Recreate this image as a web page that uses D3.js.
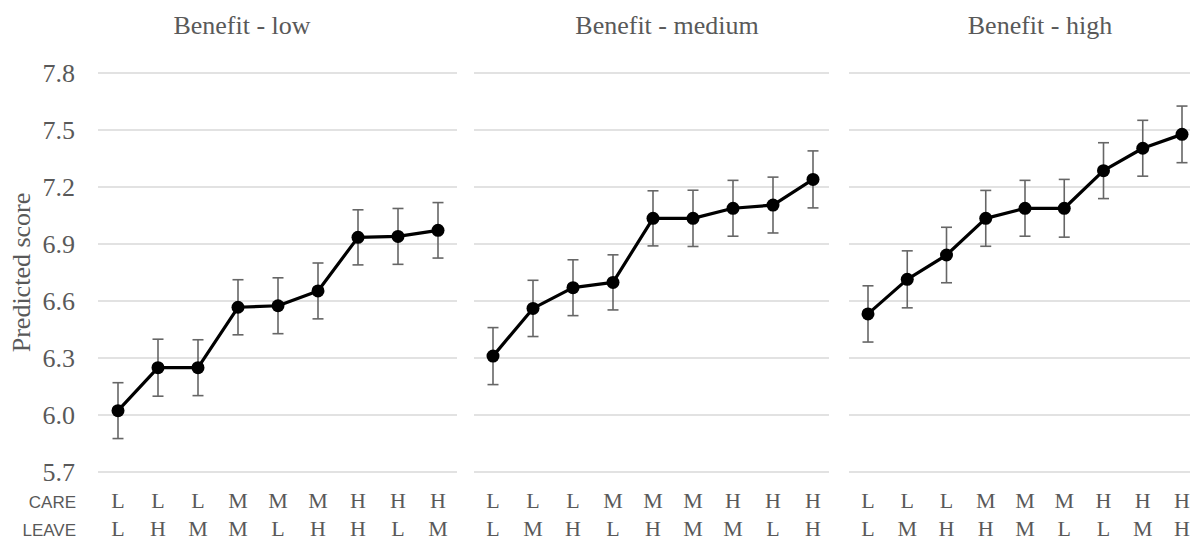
<!DOCTYPE html>
<html>
<head>
<meta charset="utf-8">
<script src="https://cdn.jsdelivr.net/npm/d3@7"></script>
<style>
  body { margin: 0; background: #fff; }
  #svg-container { width: 1200px; height: 540px; }
</style>
</head>
<body>
<div id="svg-container"></div>
<script>
////////////////////////////////////////////////////////////////////
////////////////////////////  Data  ////////////////////////////////
const panelTitles = ["Benefit - low", "Benefit - medium", "Benefit - high"];
const yTicks = [5.7, 6.0, 6.3, 6.6, 6.9, 7.2, 7.5, 7.8];

const careLow = ["L", "L", "L", "M", "M", "M", "H", "H", "H"];
const leaveLow = ["L", "H", "M", "M", "L", "H", "H", "L", "M"];
const scoreLow = [6.023, 6.249, 6.249, 6.567, 6.575, 6.653, 6.935, 6.94, 6.972];
const errLow = [0.147, 0.15, 0.147, 0.145, 0.147, 0.147, 0.145, 0.147, 0.146];

const careMed = ["L", "L", "L", "M", "M", "M", "H", "H", "H"];
const leaveMed = ["L", "M", "H", "L", "H", "M", "M", "L", "H"];
const scoreMed = [6.31, 6.561, 6.67, 6.698, 7.035, 7.035, 7.088, 7.105, 7.24];
const errMed = [0.15, 0.148, 0.147, 0.145, 0.145, 0.148, 0.147, 0.147, 0.15];

const careHigh = ["L", "L", "L", "M", "M", "M", "H", "H", "H"];
const leaveHigh = ["L", "M", "H", "H", "M", "L", "L", "M", "H"];
const scoreHigh = [6.532, 6.714, 6.842, 7.035, 7.088, 7.088, 7.286, 7.404, 7.477];
const errHigh = [0.148, 0.15, 0.146, 0.147, 0.147, 0.152, 0.147, 0.147, 0.149];

////////////////////////////////////////////////////////////////////
////////////////////////////  Init  ////////////////////////////////
const width = 1200;
const height = 540;

const svg = d3
  .select("#svg-container")
  .append("svg")
  .attr("width", width)
  .attr("height", height);

const serif = "'Liberation Serif', 'Times New Roman', serif";
const sans = "'Liberation Sans', Arial, sans-serif";
const textGrey = "#595959";

// layout of the three panels (gridline extent, first/last point, title centre)
const panels = [
  { grid: [98, 457], pts: [118, 438], titleX: 242, care: careLow, leave: leaveLow, score: scoreLow, err: errLow },
  { grid: [474, 829], pts: [493, 813], titleX: 667, care: careMed, leave: leaveMed, score: scoreMed, err: errMed },
  { grid: [849, 1190], pts: [868, 1182], titleX: 1040, care: careHigh, leave: leaveHigh, score: scoreHigh, err: errHigh },
];

const yScale = d3.scaleLinear().domain([5.7, 7.8]).range([472, 73]);

// y tick labels
const yAxis = d3
  .axisLeft(yScale)
  .tickValues(yTicks)
  .tickFormat(d3.format(".1f"))
  .tickSize(0)
  .tickPadding(0);

const yG = svg.append("g").attr("transform", "translate(75,0)").call(yAxis);
yG.select(".domain").remove();
yG.selectAll("text")
  .attr("fill", textGrey)
  .style("font-family", serif)
  .style("font-size", "26px")
  .attr("dy", "0.33em");

// axis title
svg
  .append("text")
  .attr("transform", `translate(30, ${(yScale(5.7) + yScale(7.8)) / 2}) rotate(-90)`)
  .attr("text-anchor", "middle")
  .attr("fill", textGrey)
  .style("font-family", serif)
  .style("font-size", "26px")
  .text("Predicted score");

// row headers
svg
  .selectAll(".row-head")
  .data(["CARE", "LEAVE"])
  .join("text")
  .attr("class", "row-head")
  .attr("x", 76)
  .attr("y", (d, i) => 508 + i * 28)
  .attr("text-anchor", "end")
  .attr("fill", textGrey)
  .style("font-family", sans)
  .style("font-size", "17px")
  .text((d) => d);

////////////////////////////////////////////////////////////////////
////////////////////////////  Panels  //////////////////////////////
panels.forEach((p, pi) => {
  const xScale = d3.scalePoint().domain(d3.range(p.score.length)).range(p.pts);
  const g = svg.append("g");

  // gridlines
  g.selectAll(".grid")
    .data(yTicks)
    .join("line")
    .attr("x1", p.grid[0])
    .attr("x2", p.grid[1])
    .attr("y1", (d) => yScale(d))
    .attr("y2", (d) => yScale(d))
    .attr("stroke", "#d9d9d9")
    .attr("stroke-width", 1.5);

  // title
  g.append("text")
    .attr("x", p.titleX)
    .attr("y", 34)
    .attr("text-anchor", "middle")
    .attr("fill", textGrey)
    .style("font-family", serif)
    .style("font-size", "26px")
    .text(panelTitles[pi]);

  // error bars
  const eb = g
    .selectAll(".err")
    .data(p.score)
    .join("g")
    .attr("stroke", "#666")
    .attr("stroke-width", 1.6);
  eb.append("line")
    .attr("x1", (d, i) => xScale(i))
    .attr("x2", (d, i) => xScale(i))
    .attr("y1", (d, i) => yScale(d + p.err[i]))
    .attr("y2", (d, i) => yScale(d - p.err[i]));
  eb.append("line")
    .attr("x1", (d, i) => xScale(i) - 5.5)
    .attr("x2", (d, i) => xScale(i) + 5.5)
    .attr("y1", (d, i) => yScale(d + p.err[i]))
    .attr("y2", (d, i) => yScale(d + p.err[i]));
  eb.append("line")
    .attr("x1", (d, i) => xScale(i) - 5.5)
    .attr("x2", (d, i) => xScale(i) + 5.5)
    .attr("y1", (d, i) => yScale(d - p.err[i]))
    .attr("y2", (d, i) => yScale(d - p.err[i]));

  // line
  const line = d3
    .line()
    .x((d, i) => xScale(i))
    .y((d) => yScale(d));

  g.append("path")
    .datum(p.score)
    .attr("d", line)
    .attr("fill", "none")
    .attr("stroke", "#000")
    .attr("stroke-width", 3.2)
    .attr("stroke-linejoin", "round");

  // markers
  g.selectAll(".dot")
    .data(p.score)
    .join("circle")
    .attr("cx", (d, i) => xScale(i))
    .attr("cy", (d) => yScale(d))
    .attr("r", 6.5)
    .attr("fill", "#000");

  // category labels
  [p.care, p.leave].forEach((row, ri) => {
    g.selectAll(".lab" + ri)
      .data(row)
      .join("text")
      .attr("x", (d, i) => xScale(i))
      .attr("y", 508 + ri * 28)
      .attr("text-anchor", "middle")
      .attr("fill", textGrey)
      .style("font-family", serif)
      .style("font-size", "22px")
      .text((d) => d);
  });
});
</script>
</body>
</html>
